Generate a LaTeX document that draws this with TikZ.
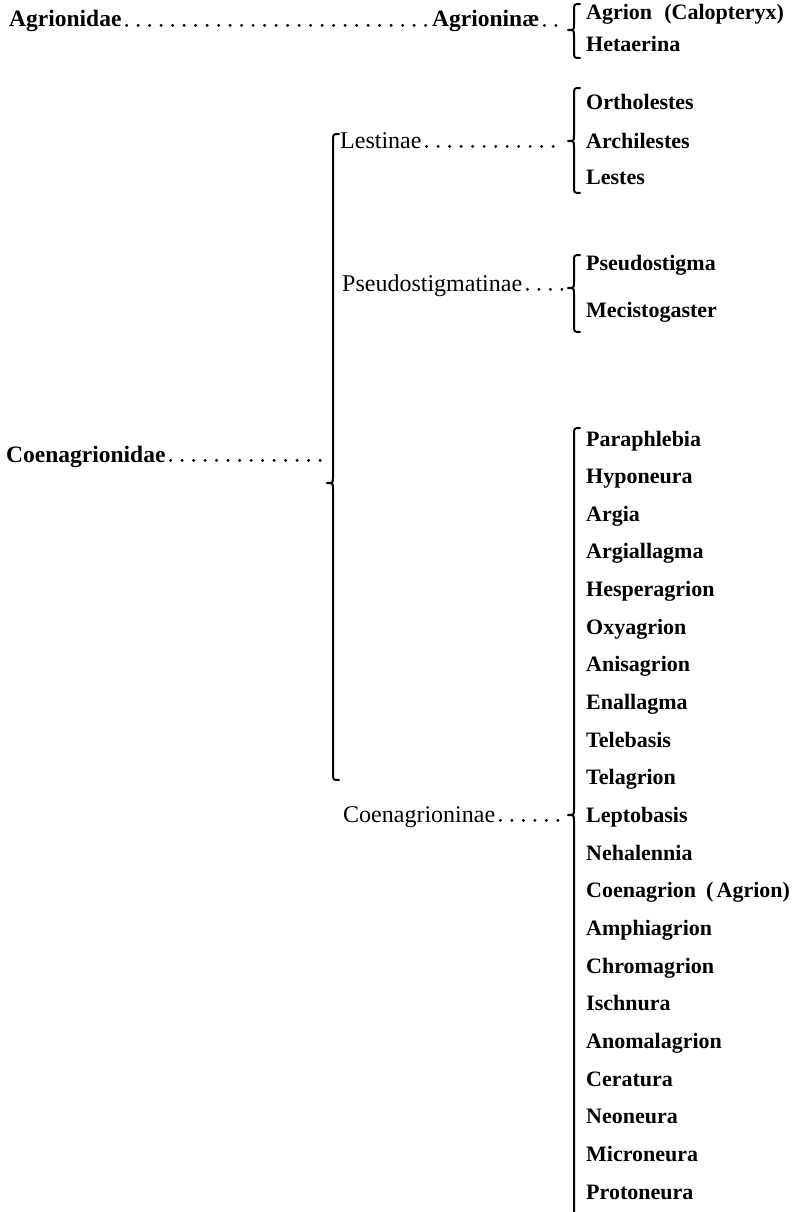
\documentclass[tikz,border=0pt]{standalone}
\usepackage{fontspec}
\setmainfont{Liberation Serif}
\begin{document}
\begin{tikzpicture}[x=1pt,y=-1pt,
  fam/.style={inner sep=0pt,anchor=base west,font=\fontsize{23.5}{26}\selectfont\bfseries},
  sub/.style={inner sep=0pt,anchor=base west,font=\fontsize{24}{26}\selectfont},
  gen/.style={inner sep=0pt,anchor=base west,font=\fontsize{22}{26}\selectfont\bfseries},
  leader/.style={line width=3.2pt,line cap=round,dash pattern=on 0pt off 11.5pt,shorten <=5pt,shorten >=2pt},
  br/.style={line width=2pt,line cap=round,line join=round}]
\useasboundingbox (0,0) rectangle (801,1212);
\clip (0,0) rectangle (801,1212);
\newcommand\Brace[4]{%
  \draw[br] ({#1+6},{#2}) .. controls ({#1},{#2}) .. ({#1},{#2+7}) -- ({#1},{#3-6})
    .. controls ({#1},{#3}) .. ({#1-6},{#3}) .. controls ({#1},{#3}) .. ({#1},{#3+6})
    -- ({#1},{#4-7}) .. controls ({#1},{#4}) .. ({#1+6},{#4});
  \coordinate (tip#1#3) at ({#1-8},{#3});}
% families
\node[fam] (agrionidae) at (9,27) {Agrionidae};
\node[fam] (coenagrionidae) at (6,462) {Coenagrionidae};
% subfamilies
\node[fam] (agrioninae) at (432,27) {Agrioninæ};
\node[sub] (lestinae) at (340,148) {Lestinae};
\node[sub] (pseudostigmatinae) at (342,291) {Pseudostigmatinae};
\node[sub] (coenagrioninae) at (343,822) {Coenagrioninae};
% genera
\node[gen] (g1) at (586,20) {Agrion\hspace{0.55em}(Calopteryx)};
\node[gen] (g2) at (586,52) {Hetaerina};
\node[gen] (g3) at (586,110) {Ortholestes};
\node[gen] (g4) at (586,148) {Archilestes};
\node[gen] (g5) at (586,184) {Lestes};
\node[gen] (g6) at (586,270) {Pseudostigma};
\node[gen] (g7) at (586,317) {Mecistogaster};
\foreach \n [count=\i from 0] in {Paraphlebia,Hyponeura,Argia,Argiallagma,Hesperagrion,Oxyagrion,Anisagrion,Enallagma,Telebasis,Telagrion,Leptobasis,Nehalennia,{Coenagrion\hspace{0.45em}(\hspace{0.15em}Agrion)},Amphiagrion,Chromagrion,Ischnura,Anomalagrion,Ceratura,Neoneura,Microneura,Protoneura}
  \node[gen] (c\i) at (586,{446+37.65*\i}) {\n};
% braces
\Brace{574}{4}{30}{58}
\Brace{574}{88}{141}{193}
\Brace{574}{255}{288}{332}
\Brace{574}{428}{815}{1232}
\Brace{333}{134}{483}{780}
% leaders
\draw[leader] ([yshift=1.6pt]agrionidae.base east) -- ([yshift=1.6pt]agrioninae.base west);
\draw[leader] ([yshift=1.6pt]agrioninae.base east) -- ([yshift=1.6pt]agrioninae.base east -| tip57430);
\draw[leader] ([yshift=1.6pt]lestinae.base east) -- ([yshift=1.6pt]lestinae.base east -| tip574141);
\draw[leader] ([yshift=1.6pt]pseudostigmatinae.base east) -- ([yshift=1.6pt]pseudostigmatinae.base east -| tip574288);
\draw[leader] ([yshift=1.6pt]coenagrioninae.base east) -- ([yshift=1.6pt]coenagrioninae.base east -| tip574815);
\draw[leader] ([yshift=1.6pt]coenagrionidae.base east) -- ([yshift=1.6pt]coenagrionidae.base east -| tip333483);
\end{tikzpicture}
\end{document}
